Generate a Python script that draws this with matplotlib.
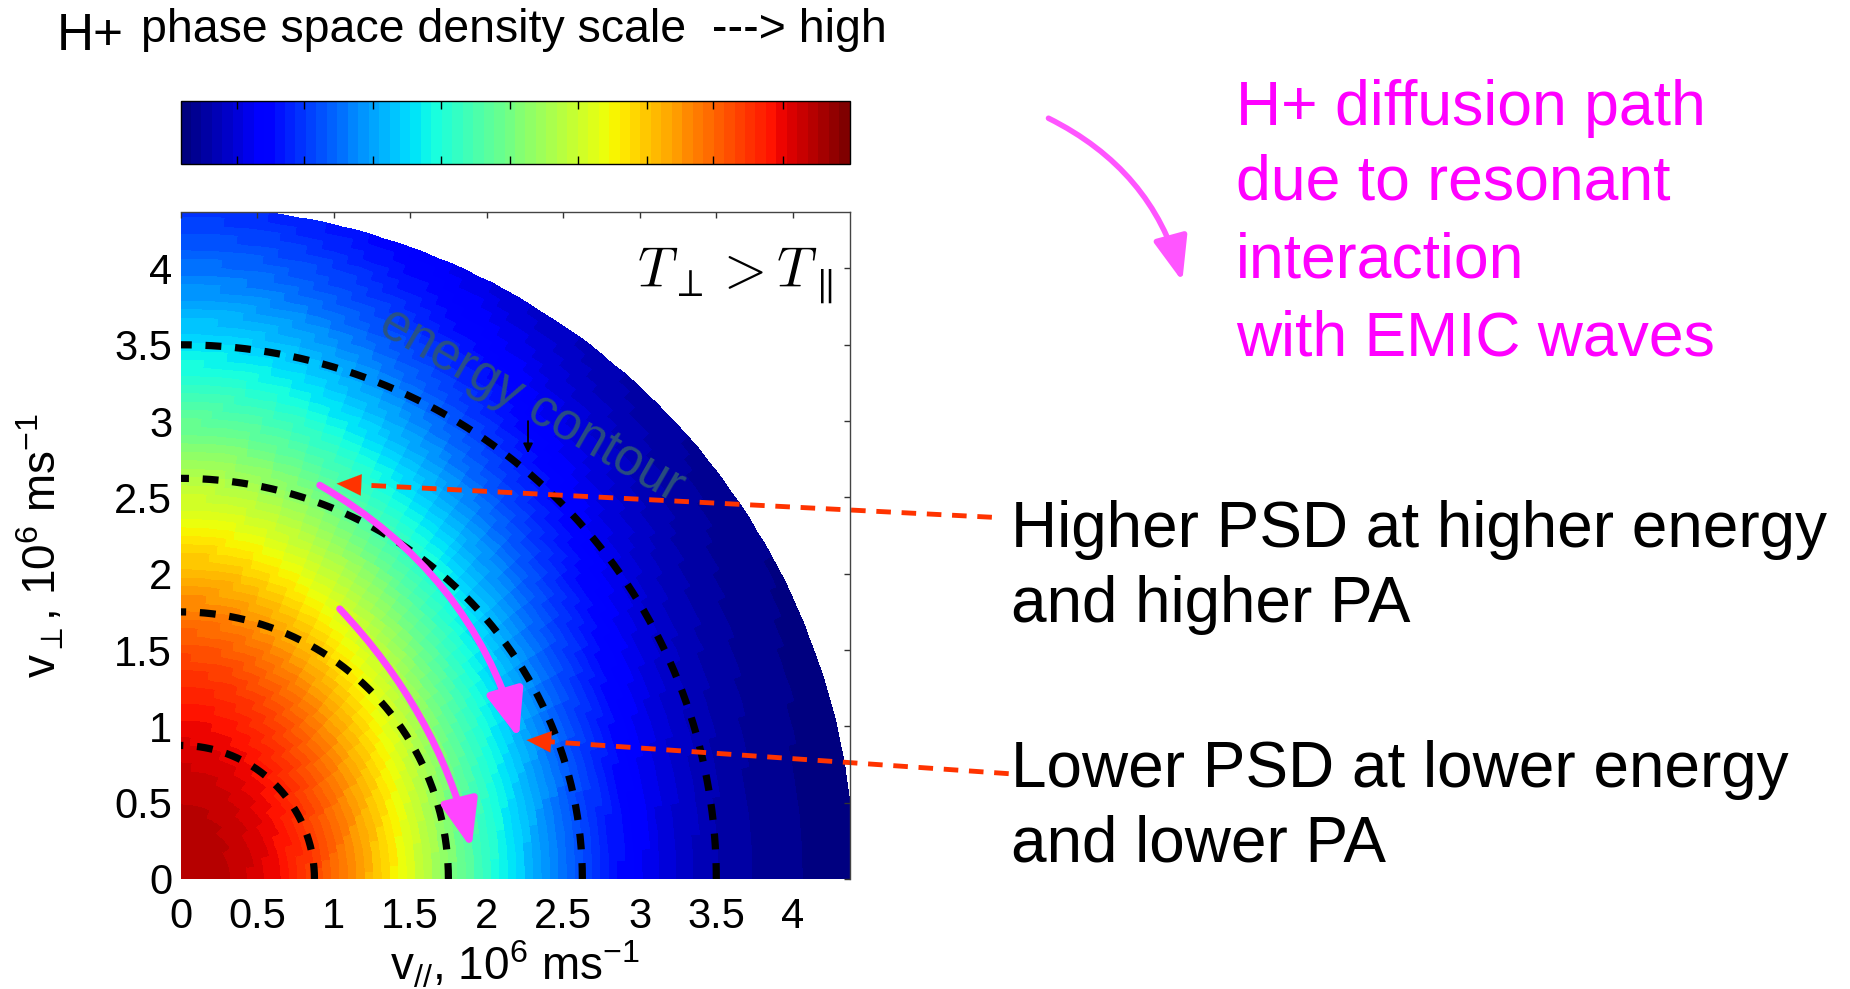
import numpy as np
import matplotlib
matplotlib.use('Agg')
import matplotlib.pyplot as plt
from matplotlib.colors import ListedColormap

# energy contours (dashed quarter circles), 10^6 m/s
contour_radii = [0.875, 1.75, 2.625, 3.5]
v_edge = 4.4        # outer radius of the velocity grid
v_lim = 4.37        # axis limit on both axes
tick_values = [0, 0.5, 1, 1.5, 2, 2.5, 3, 3.5, 4]
tick_labels = ['0', '0.5', '1', '1.5', '2', '2.5', '3', '3.5', '4']

# PSD shape (T_perp > T_par -> wider along v_perp)
s_par = 2.17
s_perp = 3.5
psd_shape = 2.27
psd_peak = 0.95
n_colors = 64

# tick marks on the colour scale (fraction of bar)
cbar_ticks = [0.084, 0.185, 0.288, 0.389, 0.493, 0.594, 0.697, 0.796, 0.900]

# magenta diffusion paths in (v_par, v_perp)
path_starts = [(0.91, 2.58), (1.04, 1.77)]
path_ends = [(2.21, 0.92), (1.90, 0.20)]
path_bends = [-0.2, -0.13]

# red dashed pointers: from caption side to tip
pointer_starts = [(5.30, 2.37), (5.41, 0.69)]
pointer_tips = [(1.02, 2.59), (2.26, 0.91)]

magenta_lines = ['H+ diffusion path', 'due to resonant', 'interaction', 'with EMIC waves']
magenta_base = [125, 200, 278, 355]
caption_lines = ['Higher PSD at higher energy', 'and higher PA',
                 'Lower PSD at lower energy', 'and lower PA']
caption_base = [547, 622, 787, 861]

plt.rcParams['font.family'] = ['Liberation Sans', 'DejaVu Sans']
plt.rcParams['mathtext.fontset'] = 'custom'
plt.rcParams['mathtext.rm'] = 'Liberation Sans'
plt.rcParams['mathtext.it'] = 'Liberation Sans:italic'
plt.rcParams['mathtext.sf'] = 'Liberation Sans'

W, H = 1850, 989
fig = plt.figure(figsize=(W / 100, H / 100), dpi=100)


def fx(px):
    return px / W


def fy(py):
    return 1 - py / H


jet64 = ListedColormap(plt.get_cmap('jet')(np.linspace(0, 1, n_colors)))

# polar grid of the distribution
r_e = np.linspace(0, v_edge, 81)
th_e = np.linspace(0, np.pi / 2, 73)
R, TH = np.meshgrid(r_e, th_e, indexing='ij')
X, Y = R * np.cos(TH), R * np.sin(TH)
rc = 0.5 * (r_e[1:] + r_e[:-1])
tc = 0.5 * (th_e[1:] + th_e[:-1])
RC, TC = np.meshgrid(rc, tc, indexing='ij')
rho = np.sqrt((RC * np.cos(TC) / s_par) ** 2 + (RC * np.sin(TC) / s_perp) ** 2)
psd = psd_peak * np.exp(-rho ** psd_shape)

ax = fig.add_axes([fx(180.5), fy(879), fx(669), 667 / H])
mesh = ax.pcolormesh(X, Y, psd, cmap=jet64, vmin=0, vmax=1, shading='flat',
                     edgecolors='face', linewidth=0.3)

th = np.linspace(0, np.pi / 2, 300)
for r in contour_radii:
    ax.plot(r * np.cos(th), r * np.sin(th), color='k', lw=5.2, ls=(0, (2.2, 1.9)))

ax.set_xlim(0, v_lim)
ax.set_ylim(0, v_lim)
ax.set_xticks(tick_values)
ax.set_xticklabels(tick_labels)
ax.set_yticks(tick_values)
ax.set_yticklabels(tick_labels)
ax.tick_params(direction='in', length=4.5, width=1, color='#333333',
               left=False, bottom=False, top=True, right=True, labelsize=30)
ax.tick_params(axis='x', pad=13)
ax.tick_params(axis='y', pad=6)
ax.spines['left'].set_visible(False)
ax.spines['bottom'].set_visible(False)
for s in ['top', 'right']:
    ax.spines[s].set_color('#444444')
    ax.spines[s].set_linewidth(1)

ax.set_xlabel(r'v$_{//}$, 10$^6$ ms$^{-1}$', fontsize=33)
ax.set_ylabel(r'v$_\perp$, 10$^6$ ms$^{-1}$', fontsize=33)
ax.xaxis.set_label_coords(0.5, -0.09)
ax.yaxis.set_label_coords(-0.17, 0.5)

ax.text(3.62, 3.95, r'$T_\perp > T_\parallel$', fontsize=40, ha='center', va='center',
        math_fontfamily='cm')
ax.text(2.29, 3.10, 'energy contour', rotation=-30, fontsize=37, color='#2d5578',
        alpha=0.9, ha='center', va='center', rotation_mode='anchor')
ax.annotate('', xy=(2.27, 2.79), xytext=(2.27, 3.0),
            arrowprops=dict(arrowstyle='-|>', color='k', lw=1.3, mutation_scale=14,
                            shrinkA=0, shrinkB=0))

for s, e, b in zip(path_starts, path_ends, path_bends):
    ax.annotate('', xy=e, xytext=s,
                arrowprops=dict(arrowstyle='-|>,head_length=0.9,head_width=0.35',
                                color='#ff44ff', lw=5, mutation_scale=32,
                                connectionstyle='arc3,rad=%g' % b,
                                shrinkA=0, shrinkB=0))

for s, t in zip(pointer_starts, pointer_tips):
    d = np.array(s) - np.array(t)
    d = d / np.hypot(*d)
    mid = np.array(t) + d * 0.08
    ax.plot([s[0], mid[0]], [s[1], mid[1]], color='#ff3300', lw=3.5,
            ls=(0, (3, 2.2)), clip_on=False)
    ax.annotate('', xy=t, xytext=tuple(np.array(t) + d * 0.14), annotation_clip=False,
                arrowprops=dict(arrowstyle='-|>,head_length=0.8,head_width=0.35',
                                color='#ff3300', lw=0.1, mutation_scale=22,
                                shrinkA=0, shrinkB=0))

# colour scale bar
cax = fig.add_axes([fx(180.5), fy(164), fx(669), 62.5 / H])
cb = fig.colorbar(mesh, cax=cax, orientation='horizontal')
cb.set_ticks(cbar_ticks)
cax.tick_params(direction='in', length=6, width=1, top=True, bottom=True,
                labelbottom=False, labeltop=False)
cb.outline.set_linewidth(1)

fig.text(fx(57), fy(50), 'H+', fontsize=37, va='baseline')
fig.text(fx(141), fy(42), 'phase space density scale  ---> high', fontsize=33.5,
         va='baseline')

for line, b in zip(magenta_lines, magenta_base):
    fig.text(fx(1236), fy(b), line, fontsize=45, color='#ff00ff', va='baseline')
for line, b in zip(caption_lines, caption_base):
    fig.text(fx(1011), fy(b), line, fontsize=46, color='k', va='baseline')

fig.patches.append(matplotlib.patches.FancyArrowPatch(
    (fx(1046), fy(117)), (fx(1183), fy(284)), transform=fig.transFigure,
    arrowstyle='-|>,head_length=0.9,head_width=0.35', color='#ff55ff', lw=4,
    mutation_scale=30, connectionstyle='arc3,rad=-0.23'))

fig.savefig('out.png', dpi=100)
